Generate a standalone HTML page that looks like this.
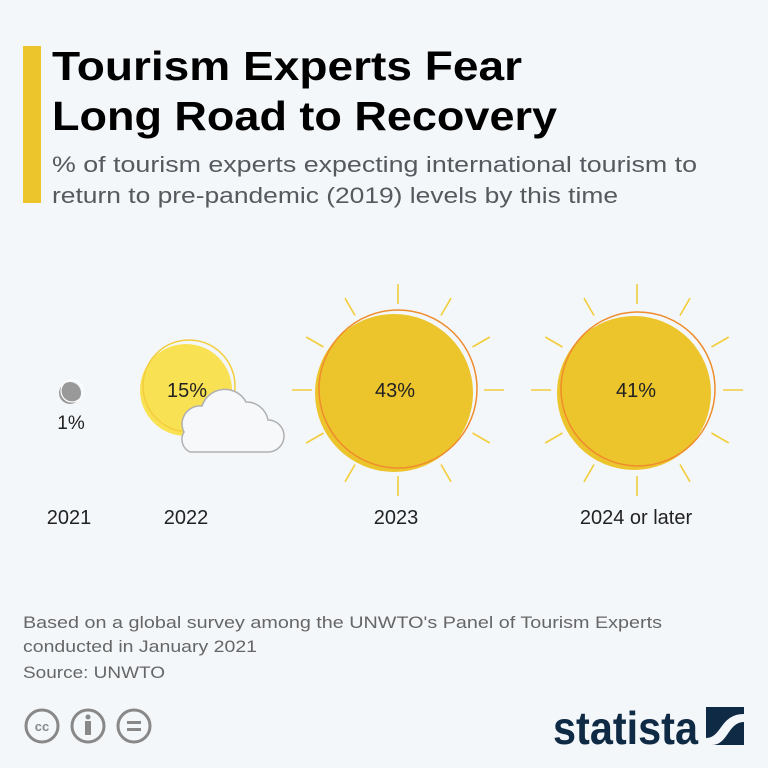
<!DOCTYPE html>
<html><head><meta charset="utf-8"><style>body{margin:0;background:#f4f7fa}svg{display:block}</style></head>
<body>
<svg width="768" height="768" viewBox="0 0 768 768" xmlns="http://www.w3.org/2000/svg" font-family="Liberation Sans, sans-serif">
<rect width="768" height="768" fill="#f4f7fa"/>
<rect x="23" y="46" width="18" height="157" fill="#ecc42c"/>
<text x="52" y="80" font-size="41" font-weight="bold" fill="#000" textLength="470" lengthAdjust="spacingAndGlyphs">Tourism Experts Fear</text>
<text x="52" y="130" font-size="41" font-weight="bold" fill="#000" textLength="505" lengthAdjust="spacingAndGlyphs">Long Road to Recovery</text>
<text x="52" y="172" font-size="22" fill="#555a5f" textLength="645" lengthAdjust="spacingAndGlyphs">% of tourism experts expecting international tourism to</text>
<text x="52" y="203" font-size="22" fill="#555a5f" textLength="566" lengthAdjust="spacingAndGlyphs">return to pre-pandemic (2019) levels by this time</text>

<!-- 2021 -->
<circle cx="70" cy="393" r="11" fill="#999"/>
<circle cx="72" cy="391" r="11" fill="none" stroke="#fff" stroke-width="1.2"/>
<text x="71" y="429" font-size="19" text-anchor="middle" fill="#222">1%</text>

<!-- 2022 -->
<circle cx="186" cy="390" r="46" fill="#f9e154"/>
<circle cx="189" cy="386" r="46" fill="none" stroke="#f2cd3c" stroke-width="1.5"/>
<path d="M190,452 h78 a16,16 0 0 0 0,-32 a22,22 0 0 0 -22,-18 a24,24 0 0 0 -44,4 a18,18 0 0 0 -18,26 a14,14 0 0 0 6,20 z" fill="#f7f8fa" stroke="#b0b0b0" stroke-width="1.5"/>
<text x="187" y="397" font-size="20" text-anchor="middle" fill="#222">15%</text>

<g stroke="#f2cd3c" stroke-width="1.6">
<g transform="translate(398,390)">
<line x1="0" y1="-86" x2="0" y2="-106"/><line x1="0" y1="86" x2="0" y2="106"/>
<line x1="-86" y1="0" x2="-106" y2="0"/><line x1="86" y1="0" x2="106" y2="0"/>
<g transform="rotate(30)"><line x1="0" y1="-86" x2="0" y2="-106"/><line x1="0" y1="86" x2="0" y2="106"/><line x1="-86" y1="0" x2="-106" y2="0"/><line x1="86" y1="0" x2="106" y2="0"/></g>
<g transform="rotate(60)"><line x1="0" y1="-86" x2="0" y2="-106"/><line x1="0" y1="86" x2="0" y2="106"/><line x1="-86" y1="0" x2="-106" y2="0"/><line x1="86" y1="0" x2="106" y2="0"/></g>
</g>
<g transform="translate(637,390)">
<line x1="0" y1="-86" x2="0" y2="-106"/><line x1="0" y1="86" x2="0" y2="106"/>
<line x1="-86" y1="0" x2="-106" y2="0"/><line x1="86" y1="0" x2="106" y2="0"/>
<g transform="rotate(30)"><line x1="0" y1="-86" x2="0" y2="-106"/><line x1="0" y1="86" x2="0" y2="106"/><line x1="-86" y1="0" x2="-106" y2="0"/><line x1="86" y1="0" x2="106" y2="0"/></g>
<g transform="rotate(60)"><line x1="0" y1="-86" x2="0" y2="-106"/><line x1="0" y1="86" x2="0" y2="106"/><line x1="-86" y1="0" x2="-106" y2="0"/><line x1="86" y1="0" x2="106" y2="0"/></g>
</g>
</g>
<circle cx="394" cy="393" r="79" fill="#ecc42c"/>
<circle cx="398" cy="389" r="79" fill="none" stroke="#ef8c2c" stroke-width="1.5"/>
<text x="395" y="397" font-size="20" text-anchor="middle" fill="#222">43%</text>

<circle cx="634" cy="393" r="77" fill="#ecc42c"/>
<circle cx="638" cy="389" r="77" fill="none" stroke="#ef8c2c" stroke-width="1.5"/>
<text x="636" y="397" font-size="20" text-anchor="middle" fill="#222">41%</text>

<g font-size="20" fill="#222" text-anchor="middle">
<text x="69" y="524">2021</text>
<text x="186" y="524">2022</text>
<text x="396" y="524">2023</text>
<text x="636" y="524">2024 or later</text>
</g>

<g font-size="17" fill="#666">
<text x="23" y="628" textLength="639" lengthAdjust="spacingAndGlyphs">Based on a global survey among the UNWTO's Panel of Tourism Experts</text>
<text x="23" y="652" textLength="234" lengthAdjust="spacingAndGlyphs">conducted in January 2021</text>
<text x="23" y="678" textLength="142" lengthAdjust="spacingAndGlyphs">Source: UNWTO</text>
</g>

<g stroke="#888" stroke-width="3" fill="none">
<circle cx="42" cy="726" r="16"/><circle cx="88" cy="726" r="16"/><circle cx="134" cy="726" r="16"/>
</g>
<text x="42" y="731" font-size="13" font-weight="bold" fill="#888" text-anchor="middle">cc</text>
<circle cx="88" cy="717" r="2.5" fill="#888"/>
<rect x="85" y="721" width="6" height="14" fill="#888"/>
<rect x="127" y="721" width="14" height="3" fill="#888"/><rect x="127" y="728" width="14" height="3" fill="#888"/>

<text x="553" y="744" font-size="46" font-weight="bold" fill="#0f2a44" textLength="145" lengthAdjust="spacingAndGlyphs">statista</text>
<rect x="706" y="707" width="38" height="38" fill="#0f2a44"/>
<path d="M706,738 C722,738 720,714 744,714 L744,722 C728,722 728,745 712,745 L706,745 Z" fill="#f4f7fa"/>
</svg>
</body></html>
